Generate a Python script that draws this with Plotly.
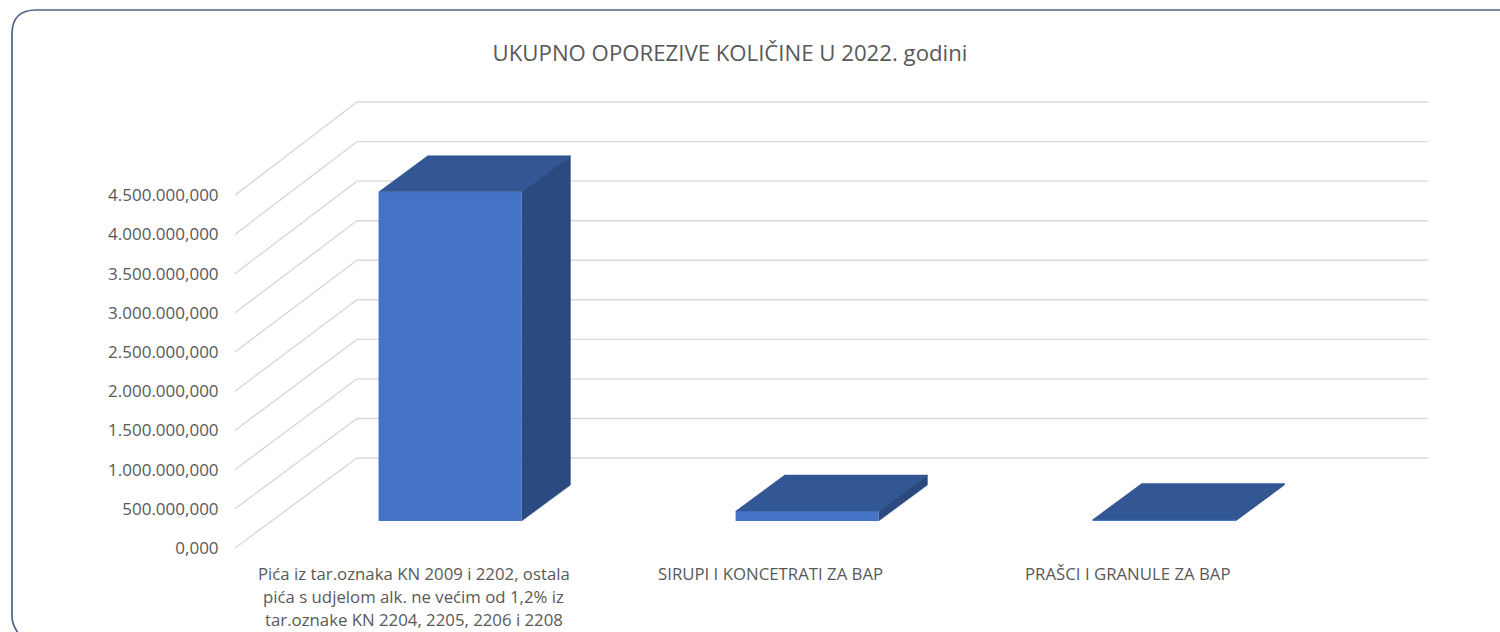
import plotly.graph_objects as go

# ---- data ----
category_lines = [
    ["Pića iz tar.oznaka KN 2009 i 2202, ostala",
     "pića s udjelom alk. ne većim od 1,2% iz",
     "tar.oznake KN 2204, 2205, 2206 i 2208"],
    ["SIRUPI I KONCETRATI ZA BAP"],
    ["PRAŠCI I GRANULE ZA BAP"],
]
values = [4200000000, 127000000, 20000000]
tick_values = [0, 500000000, 1000000000, 1500000000, 2000000000,
               2500000000, 3000000000, 3500000000, 4000000000, 4500000000]
tick_labels = ["0,000", "500.000,000", "1.000.000,000", "1.500.000,000", "2.000.000,000",
               "2.500.000,000", "3.000.000,000", "3.500.000,000", "4.000.000,000", "4.500.000,000"]
title_text = "UKUPNO OPOREZIVE KOLIČINE U 2022. godini"

# ---- style / oblique projection ----
W, H = 1500, 632
LEFT, BASE = 235, 548      # front-plane origin in page pixels
SLOT_PX = 357              # pixels per category slot
UNIT_PX = 39.2 / 500000000 # pixels per value unit
DEPTH_DX = 122 / SLOT_PX   # wall depth in slots
DEPTH_DY = 90 / UNIT_PX    # wall depth in value units
BACK_SCALE = 1.009         # slight perspective of the back wall
BAR_W = 143 / SLOT_PX
BAR_D0, BAR_D1 = 0.3, 0.7
GRID = "#D9D9D9"
TEXT = "#595959"
FRONT, TOP, SIDE = "#4472C4", "#335694", "#2A4A80"
FONT = "Open Sans"


def proj(x, v, d):
    return x + d * DEPTH_DX, v + d * DEPTH_DY


fig = go.Figure()

# front faces: real bars on the shifted floor line
centers = [i + 0.5 for i in range(len(values))]
fig.add_trace(go.Bar(
    x=[proj(c, 0, BAR_D0)[0] for c in centers],
    y=values,
    base=[proj(0, 0, BAR_D0)[1]] * len(values),
    width=BAR_W,
    marker=dict(color=FRONT, line=dict(width=0)),
    hoverinfo="skip",
    showlegend=False,
))

# top and side faces
for c, v in zip(centers, values):
    l, r = c - BAR_W / 2, c + BAR_W / 2
    pts = [proj(l, v, BAR_D0), proj(r, v, BAR_D0), proj(r, v, BAR_D1), proj(l, v, BAR_D1)]
    fig.add_trace(go.Scatter(x=[p[0] for p in pts], y=[p[1] for p in pts], mode="lines",
                             fill="toself", fillcolor=TOP, line=dict(color=TOP, width=0.5),
                             hoverinfo="skip", showlegend=False))
    pts = [proj(r, 0, BAR_D0), proj(r, 0, BAR_D1), proj(r, v, BAR_D1), proj(r, v, BAR_D0)]
    fig.add_trace(go.Scatter(x=[p[0] for p in pts], y=[p[1] for p in pts], mode="lines",
                             fill="toself", fillcolor=SIDE, line=dict(color=SIDE, width=0.5),
                             hoverinfo="skip", showlegend=False))

shapes = []
# gridlines on side wall and back wall, beneath the bars
n = len(values)
for t in tick_values:
    x1, y1 = proj(0, t, 0)
    x2, y2 = proj(0, t * BACK_SCALE, 1)
    x3, y3 = proj(n, t * BACK_SCALE, 1)
    shapes.append(dict(type="path", xref="x", yref="y", layer="below",
                       path=f"M {x1} {y1} L {x2} {y2} L {x3} {y3}",
                       line=dict(color=GRID, width=1.4)))


# rounded chart frame, running off the right and bottom of the page
def px(x, y):
    return f"{(x - LEFT) / (W - LEFT)} {(BASE - y) / BASE}"


frame = (f"M {px(24, 640)} Q {px(12, 628)} {px(12, 616)} L {px(12, 34)} "
         f"Q {px(12, 10)} {px(36, 10)} L {px(1510, 10)}")
shapes.append(dict(type="path", xref="paper", yref="paper", layer="above", path=frame,
                   line=dict(color="#4F6485", width=1.7)))

# category labels, one annotation per line
annotations = []
for c, lines in zip(centers, category_lines):
    for j, line in enumerate(lines):
        annotations.append(dict(x=c, y=0, xref="x", yref="y", text=line, showarrow=False,
                                xanchor="center", yanchor="middle", yshift=-(25 + 23.4 * j),
                                font=dict(family=FONT, size=16.8, color=TEXT)))

fig.update_layout(
    width=W, height=H,
    autosize=False,
    paper_bgcolor="white", plot_bgcolor="white",
    margin=dict(l=LEFT, r=0, t=0, b=H - BASE, pad=0),
    showlegend=False,
    barmode="overlay",
    title=dict(text=title_text, x=730 / W, y=1 - 53 / H, xref="container", yref="container",
               xanchor="center", yanchor="middle",
               font=dict(family=FONT, size=22.2, color=TEXT)),
    xaxis=dict(range=[0, (W - LEFT) / SLOT_PX], showgrid=False, zeroline=False,
               showline=False, showticklabels=False, ticks="", fixedrange=True),
    yaxis=dict(range=[0, BASE / UNIT_PX], showgrid=False, zeroline=False, showline=False,
               tickmode="array", tickvals=tick_values, ticktext=tick_labels,
               ticks="outside", ticklen=12, tickcolor="rgba(0,0,0,0)",
               tickfont=dict(family=FONT, size=17, color=TEXT), fixedrange=True),
    shapes=shapes,
    annotations=annotations,
)

fig.write_html("out.html", config=dict(displayModeBar=False),
               post_script="document.body.style.margin='0';document.documentElement.style.overflow='hidden';")
